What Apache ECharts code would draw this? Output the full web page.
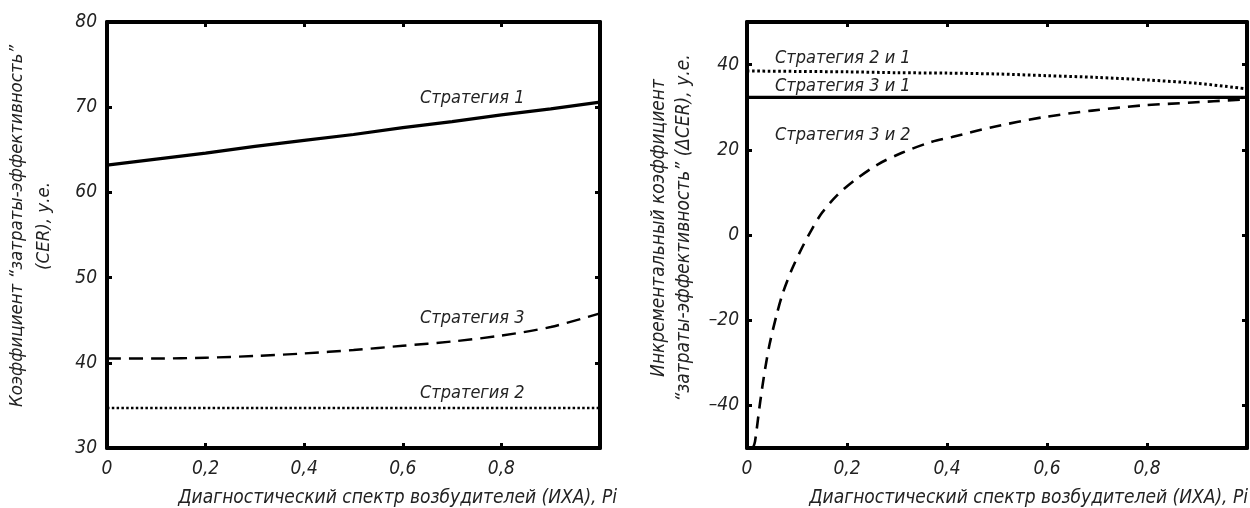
<!DOCTYPE html>
<html>
<head>
<meta charset="utf-8">
<script src="https://cdn.jsdelivr.net/npm/echarts@6/dist/echarts.min.js"></script>
<style>
html,body{margin:0;padding:0;background:#fff;}
#c{width:1250px;height:508px;}
</style>
</head>
<body>
<div id="c"></div>
<script>
// ---------- data ----------
// Left chart: CER of strategies vs Pi
const pLeft = [0, 0.1, 0.2, 0.3, 0.4, 0.5, 0.6, 0.7, 0.8, 0.9, 1.0];
const strategy1 = [63.2, 63.9, 64.6, 65.4, 66.1, 66.8, 67.6, 68.3, 69.1, 69.8, 70.6];
const strategy3 = [40.5, 40.5, 40.6, 40.8, 41.1, 41.5, 42.0, 42.5, 43.2, 44.2, 45.8];
const strategy2 = [34.7, 34.7, 34.7, 34.7, 34.7, 34.7, 34.7, 34.7, 34.7, 34.7, 34.7];

// Right chart: incremental CER
const pRight = [0, 0.1, 0.2, 0.3, 0.4, 0.5, 0.6, 0.7, 0.8, 0.9, 1.0];
const strat21 = [38.5, 38.4, 38.3, 38.1, 38.0, 37.8, 37.4, 37.0, 36.4, 35.6, 34.3];
const strat31 = [32.3, 32.3, 32.3, 32.3, 32.3, 32.3, 32.3, 32.3, 32.3, 32.3, 32.3];
const pStrat32 = [0.012, 0.016, 0.026, 0.036, 0.046, 0.06, 0.072, 0.09, 0.11, 0.13, 0.15, 0.18, 0.216, 0.262, 0.31, 0.37, 0.41, 0.49, 0.59, 0.69, 0.79, 0.89, 0.99];
const strat32 = [-50, -48.5, -39.5, -31.6, -25.2, -18.4, -13.5, -8.0, -3.0, 1.4, 5.2, 9.3, 12.9, 16.6, 19.3, 21.9, 23.0, 25.3, 27.6, 29.2, 30.4, 31.1, 31.8];

// tick labels
const xTicks = [0, 0.2, 0.4, 0.6, 0.8];
const yTicksLeft = [30, 40, 50, 60, 70, 80];
const yTicksRight = [-40, -20, 0, 20, 40];

const leftSeriesNames = ['Стратегия 1', 'Стратегия 3', 'Стратегия 2'];
const rightSeriesNames = ['Стратегия 2 и 1', 'Стратегия 3 и 1', 'Стратегия 3 и 2'];
const xTitle = 'Диагностический спектр возбудителей (ИХА), Pi';
const yTitleLeft = 'Коэффициент “затраты-эффективность”\n(CER), у.е.';
const yTitleRight = 'Инкрементальный коэффициент\n“затраты-эффективность” (ΔCER), у.е.';

// ---------- chart ----------
const FONT = "'Liberation Sans Narrow', 'DejaVu Sans Condensed', 'Roboto', sans-serif";
const zip = (xs, ys) => xs.map((x, i) => [x, ys[i]]);
const fmtNum = v => String(v).replace('.', ',').replace('-', '–');

const axisLine = { show: true, onZero: false, lineStyle: { color: '#000', width: 4 } };
const tick = { show: true, inside: true, length: 5, lineStyle: { color: '#000', width: 3 } };
const lbl = { color: '#222', fontFamily: FONT, fontStyle: 'italic', fontSize: 19 };

function xAxes(gi) {
  return [
    { type: 'value', gridIndex: gi, min: 0, max: 1, interval: 0.2, position: 'bottom',
      axisLine, splitLine: { show: false },
      axisTick: Object.assign({}, tick, { customValues: xTicks }),
      axisLabel: Object.assign({}, lbl, { margin: 12, customValues: xTicks, formatter: fmtNum }) },
    { type: 'value', gridIndex: gi, min: 0, max: 1, interval: 0.2, position: 'top',
      axisLine, splitLine: { show: false },
      axisTick: Object.assign({}, tick, { customValues: xTicks }),
      axisLabel: { show: false } }
  ];
}
function yAxes(gi, min, max, ticks, margin) {
  return [
    { type: 'value', gridIndex: gi, min, max, interval: 10, position: 'left',
      axisLine, splitLine: { show: false },
      axisTick: Object.assign({}, tick, { customValues: ticks }),
      axisLabel: Object.assign({}, lbl, { margin, customValues: ticks, formatter: fmtNum }) },
    { type: 'value', gridIndex: gi, min, max, interval: 10, position: 'right',
      axisLine, splitLine: { show: false },
      axisTick: Object.assign({}, tick, { customValues: ticks }),
      axisLabel: { show: false } }
  ];
}

function line(name, xi, yi, data, style, smooth) {
  return { name, type: 'line', xAxisIndex: xi, yAxisIndex: yi, data, showSymbol: false,
    smooth: smooth ? 0.3 : false, clip: true, silent: true,
    lineStyle: Object.assign({ color: '#000', cap: 'butt' }, style) };
}

const textStyle = (t, x, y, extra) => ({
  type: 'text', x, y, silent: true,
  style: Object.assign({ text: t, fill: '#222', font: "italic 18px " + FONT,
    textAlign: 'left', textVerticalAlign: 'middle' }, extra || {})
});

const option = {
  backgroundColor: '#fff',
  animation: false,
  grid: [
    { left: 107, right: 650, top: 22, bottom: 60 },
    { left: 747, right: 3, top: 22, bottom: 60 }
  ],
  xAxis: [...xAxes(0), ...xAxes(1)],
  yAxis: [...yAxes(0, 30, 80, yTicksLeft, 10), ...yAxes(1, -50, 50, yTicksRight, 8)],
  series: [
    line(leftSeriesNames[0], 0, 0, zip(pLeft, strategy1), { width: 3.2 }, false),
    line(leftSeriesNames[1], 0, 0, zip(pLeft, strategy3), { width: 2.4, type: [14, 8] }, true),
    line(leftSeriesNames[2], 0, 0, zip(pLeft, strategy2), { width: 2.6, type: [2.5, 2.3] }, false),
    line(rightSeriesNames[0], 2, 2, zip(pRight, strat21), { width: 3, type: [2.6, 2.6] }, true),
    line(rightSeriesNames[1], 2, 2, zip(pRight, strat31), { width: 3.2 }, false),
    line(rightSeriesNames[2], 2, 2, zip(pStrat32, strat32), { width: 2.6, type: [12, 8] }, true)
  ],
  graphic: [
    textStyle(leftSeriesNames[0], 420, 98),
    textStyle(leftSeriesNames[1], 420, 318),
    textStyle(leftSeriesNames[2], 420, 393),
    textStyle(rightSeriesNames[0], 775, 58),
    textStyle(rightSeriesNames[1], 775, 86),
    textStyle(rightSeriesNames[2], 775, 135),
    textStyle(xTitle, 617, 498, { textAlign: 'right', font: "italic 19px " + FONT }),
    textStyle(xTitle, 1248, 498, { textAlign: 'right', font: "italic 19px " + FONT }),
    { type: 'text', x: 31, y: 226, rotation: Math.PI / 2, silent: true,
      style: { text: yTitleLeft, fill: '#222', font: "italic 18.5px " + FONT, lineHeight: 27,
        textAlign: 'center', textVerticalAlign: 'middle' } },
    { type: 'text', x: 672, y: 228, rotation: Math.PI / 2, silent: true,
      style: { text: yTitleRight, fill: '#222', font: "italic 19px " + FONT, lineHeight: 25,
        textAlign: 'center', textVerticalAlign: 'middle' } }
  ]
};

const chart = echarts.init(document.getElementById('c'), null, { renderer: 'canvas' });
chart.setOption(option);
</script>
</body>
</html>
